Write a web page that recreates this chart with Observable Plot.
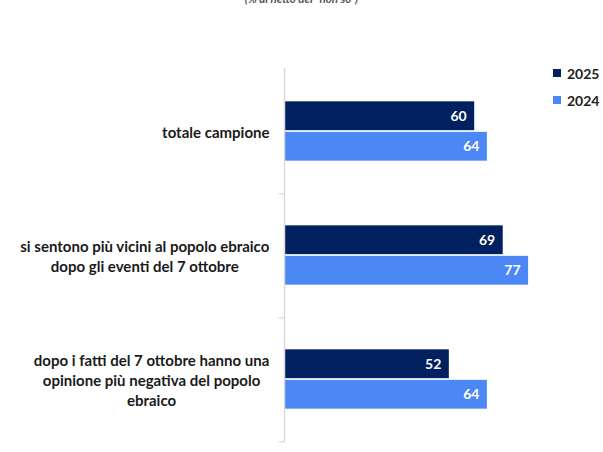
<!DOCTYPE html>
<html>
<head>
<meta charset="utf-8">
<script src="https://cdn.jsdelivr.net/npm/d3@7"></script>
<script src="https://cdn.jsdelivr.net/npm/@observablehq/plot@0.6"></script>
<style>
  body { margin: 0; background: #fff; font-family: Lato, "Open Sans", sans-serif; }
  #wrap { position: relative; width: 603px; height: 452px; overflow: hidden; }
  #sub { position: absolute; top: -8px; left: 0; width: 603px; text-align: center; font-size: 11.5px; color: #555; font-style: italic; font-weight: bold; }
  #legend { position: absolute; left: 553px; top: 64px; font-size: 14px; font-weight: bold; color: #222; }
  #legend div { display: flex; align-items: center; height: 18px; margin-bottom: 9px; }
  #legend span.sw { display: inline-block; width: 8px; height: 8px; margin-right: 6px; }
  #chart { position: absolute; top: 0; left: 0; }
</style>
</head>
<body>
<div id="wrap">
  <div id="sub">(% al netto dei “non so”)</div>
  <div id="chart"></div>
  <div id="legend"></div>
</div>
<script>
const categories = [
  "totale campione",
  "si sentono più vicini al popolo ebraico\ndopo gli eventi del 7 ottobre",
  "dopo i fatti del 7 ottobre hanno una\nopinione più negativa del popolo\nebraico"
];
const series = ["2025", "2024"];
const values2025 = [60, 69, 52];
const values2024 = [64, 77, 64];
const colors = {"2025": "#00205f", "2024": "#4c87f6"};

const data = [];
categories.forEach((c, i) => {
  data.push({cat: c, year: "2025", value: values2025[i]});
  data.push({cat: c, year: "2024", value: values2024[i]});
});

const step = (442 - 68) / categories.length;
const barH = 29.5;
const inset = (step - barH) / 2;
const off = barH / 2 + 0.5;

const chart = Plot.plot({
  width: 603,
  height: 452,
  marginTop: 68,
  marginBottom: 10,
  marginLeft: 284,
  marginRight: 2,
  style: {fontFamily: "Lato, 'Open Sans', sans-serif", background: "transparent"},
  x: {domain: [0, 100], axis: null},
  y: {domain: categories, padding: 0, label: null},
  color: {domain: series, range: series.map(s => colors[s])},
  marks: [
    Plot.axisY({tickSize: 0, tickPadding: 15, fontSize: 15, fontWeight: "bold", fill: "#1a1a1a", lineHeight: 1.33, label: null}),
    Plot.barX(data.filter(d => d.year === "2025"), {x: "value", y: "cat", fill: d => d.year, insetTop: inset, insetBottom: inset, dy: -off}),
    Plot.barX(data.filter(d => d.year === "2024"), {x: "value", y: "cat", fill: d => d.year, insetTop: inset, insetBottom: inset, dy: off}),
    Plot.text(data.filter(d => d.year === "2025"), {x: "value", y: "cat", text: d => String(d.value), dy: -off, dx: -8, textAnchor: "end", fill: "white", fontSize: 14, fontWeight: "bold"}),
    Plot.text(data.filter(d => d.year === "2024"), {x: "value", y: "cat", text: d => String(d.value), dy: off, dx: -8, textAnchor: "end", fill: "white", fontSize: 14, fontWeight: "bold"}),
    Plot.ruleX([0], {stroke: "#d9d9d9", strokeWidth: 1.5}),
    Plot.ruleY(categories, {y: d => d, x1: -1.7, x2: 0, dy: step / 2, stroke: "#d9d9d9", strokeWidth: 1.2})
  ]
});
document.getElementById("chart").appendChild(chart);

// center the lines of each category label within its right-aligned block
chart.querySelectorAll('[aria-label="y-axis tick label"] text').forEach(t => {
  const w = t.getBBox().width;
  t.setAttribute("text-anchor", "middle");
  t.setAttribute("transform", (t.getAttribute("transform") || "") + ` translate(${-w / 2},0)`);
});

const legend = document.getElementById("legend");
series.forEach(s => {
  const row = document.createElement("div");
  row.innerHTML = `<span class="sw" style="background:${colors[s]}"></span>${s}`;
  legend.appendChild(row);
});
</script>
</body>
</html>
